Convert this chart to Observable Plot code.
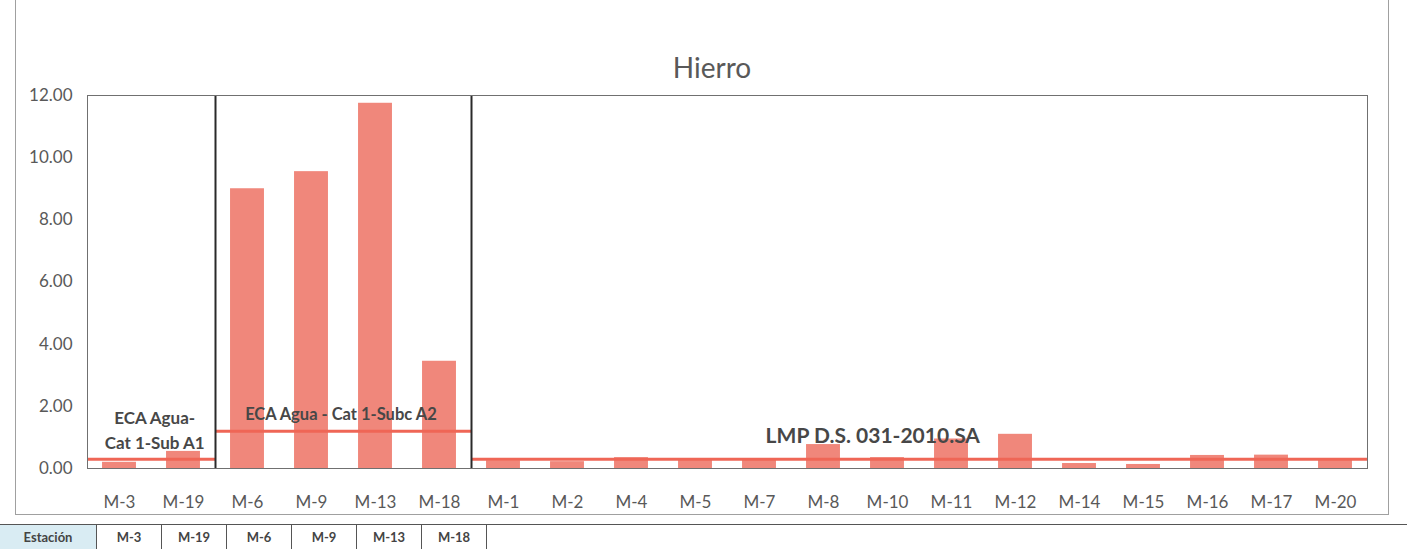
<!DOCTYPE html>
<html>
<head>
<meta charset="utf-8">
<script src="https://cdn.jsdelivr.net/npm/d3@7"></script>
<script src="https://cdn.jsdelivr.net/npm/@observablehq/plot@0.6"></script>
<style>
  html, body { margin: 0; padding: 0; background: #ffffff; }
  #wrap { position: relative; width: 1407px; height: 549px; overflow: hidden; background: #ffffff; font-family: Lato, "Open Sans", sans-serif; }
  #frame { position: absolute; left: 15px; top: -4px; width: 1374px; height: 519px; border: 1px solid #a0a0a0; box-sizing: border-box; }
  #title { position: absolute; left: 0; width: 1424px; top: 50px; text-align: center; font-size: 28px; line-height: 34px; color: #595959; }
  #chart { position: absolute; left: 0; top: 0; }
  #tbl { position: absolute; left: 0; top: 524px; width: 1407px; border-top: 1.5px solid #555; }
  #tbl .cell { position: absolute; top: 0; height: 30px; border-right: 1.5px solid #555; box-sizing: border-box; font-size: 13px; line-height: 16px; color: #444; text-align: center; padding-top: 4px; font-weight: bold; }
</style>
</head>
<body>
<div id="wrap">
  <div id="frame"></div>
  <div id="title">Hierro</div>
  <div id="chart"></div>
  <div id="tbl"></div>
</div>
<script>
// ---- data ----
const categories = ["M-3","M-19","M-6","M-9","M-13","M-18","M-1","M-2","M-4","M-5","M-7","M-8","M-10","M-11","M-12","M-14","M-15","M-16","M-17","M-20"];
const hierro = [0.2, 0.55, 9.0, 9.55, 11.75, 3.45, 0.25, 0.22, 0.35, 0.32, 0.3, 0.77, 0.35, 0.95, 1.1, 0.16, 0.13, 0.42, 0.43, 0.32];
const limitNames = ["ECA Agua-\nCat 1-Sub A1", "ECA Agua - Cat 1-Subc A2", "LMP D.S. 031-2010.SA"];
const limitValues = [0.3, 1.2, 0.3];
const limitFirst = ["M-3", "M-6", "M-1"];
const limitLast = ["M-19", "M-18", "M-20"];
const yTicks = [0, 2, 4, 6, 8, 10, 12];
const tableHeader = "Estación";

// ---- derived tables ----
const bars = categories.map((c, i) => ({i, c, v: hierro[i]}));
const limits = limitNames.map((name, k) => ({
  name,
  value: limitValues[k],
  x1: categories.indexOf(limitFirst[k]),
  x2: categories.indexOf(limitLast[k]) + 1
}));
const separators = limits.slice(1).map(d => d.x1);
const labelX = [1.05, 3.96, 12.27];
const labelY = [1.3, 1.8, 1.14];
const labelSize = [17, 16.5, 21];

const chart = Plot.plot({
  width: 1407,
  height: 520,
  marginLeft: 87,
  marginRight: 40,
  marginTop: 95,
  marginBottom: 52,
  style: {fontFamily: "Lato, 'Open Sans', sans-serif", background: "transparent"},
  x: {type: "linear", domain: [0, categories.length]},
  y: {domain: [0, 12]},
  marks: [
    Plot.rectY(bars, {x1: d => d.i + 0.235, x2: d => d.i + 0.765, y: "v", fill: "#f0877b"}),
    Plot.ruleY(limits, {x1: "x1", x2: "x2", y: "value", stroke: "#ef6656", strokeWidth: 3}),
    Plot.ruleX(separators, {y1: 0, y2: 12, stroke: "#2a2a2a", strokeWidth: 2}),
    Plot.frame({stroke: "#707070", strokeWidth: 1}),
    Plot.axisY({ticks: yTicks, tickFormat: d => d.toFixed(2), tickSize: 0, tickPadding: 15, fontSize: 17, fill: "#595959", label: null}),
    Plot.axisX({ticks: categories.map((c, i) => i + 0.5), tickFormat: d => categories[Math.floor(d)], tickSize: 0, tickPadding: 27, fontSize: 17, fill: "#595959", label: null}),
    ...limits.map((d, k) => Plot.text([d], {
      x: () => labelX[k], y: () => labelY[k], text: "name",
      fontSize: labelSize[k], fontWeight: "bold", fill: "#474747", lineHeight: 1.5
    }))
  ]
});
document.getElementById("chart").appendChild(chart);

// partial data table strip at the bottom
const tbl = document.getElementById("tbl");
const head = document.createElement("div");
head.className = "cell";
head.style.left = "0px"; head.style.width = "97px";
head.style.background = "#d9ecf3";
head.textContent = tableHeader;
tbl.appendChild(head);
categories.slice(0, 6).forEach((c, i) => {
  const cell = document.createElement("div");
  cell.className = "cell";
  cell.style.left = (97 + i * 65) + "px";
  cell.style.width = "65px";
  cell.textContent = c;
  tbl.appendChild(cell);
});
</script>
</body>
</html>
